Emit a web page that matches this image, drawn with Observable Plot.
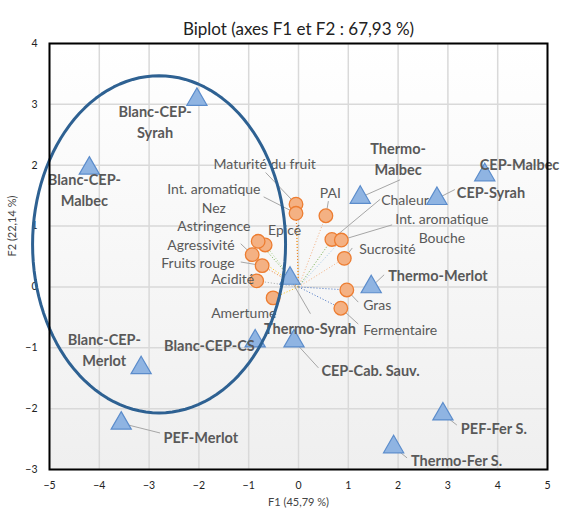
<!DOCTYPE html>
<html><head><meta charset="utf-8">
<script src="https://cdn.jsdelivr.net/npm/d3@7"></script>
<script src="https://cdn.jsdelivr.net/npm/@observablehq/plot@0.6"></script>
<style>body{margin:0;background:#fff;font-family:Lato,sans-serif;}</style>
</head><body><div id="chart"></div>
<script>
const title = "Biplot (axes F1 et F2 : 67,93 %)";
const xTitle = "F1 (45,79 %)";
const yTitle = "F2 (22,14 %)";
const xTicks = [-5,-4,-3,-2,-1,0,1,2,3,4,5];
const yTicks = [-3,-2,-1,0,1,2,3,4];

// Observations (blue triangles)
const obsNames = ["Blanc-CEP-\nSyrah","Blanc-CEP-\nMalbec","CEP-Malbec","CEP-Syrah","Thermo-\nMalbec","Thermo-Merlot","Thermo-Syrah","Blanc-CEP-CS","CEP-Cab. Sauv.","Blanc-CEP-\nMerlot","PEF-Merlot","PEF-Fer S.","Thermo-Fer S."];
const obsX = [-2.04,-4.2,3.74,2.78,1.24,1.46,-0.17,-0.87,-0.09,-3.16,-3.56,2.9,1.91];
const obsY = [3.08,1.95,1.84,1.45,1.47,0.0,0.14,-0.89,-0.89,-1.33,-2.24,-2.09,-2.63];
// label anchor points (data units) and leader ends
const obsLabelX = [-2.88,-4.3,3.64,3.18,2.0,1.8,0.23,-0.88,0.46,-3.9,-2.71,3.26,2.26];
const obsLabelY = [2.73,1.61,2.04,1.58,2.12,0.2,-0.66,-0.94,-1.35,-1.01,-2.45,-2.3,-2.83];
const obsAnchor = ["middle","middle","start","start","middle","start","middle","end","start","middle","start","start","start"];
const obsLeaderX = [null,null,null,3.14,2.04,1.72,0.24,null,0.4,null,-2.78,3.18,2.18];
const obsLeaderY = [null,null,null,1.6,1.76,0.2,-0.44,null,-1.33,null,-2.4,-2.27,-2.81];

// Variables (orange circles)
const varNames = ["Maturité du fruit","Int. aromatique\nNez","PAI","Epicé","Astringence","Agressivité","Fruits rouge","Acidité","Amertume","Chaleur","Int. aromatique\nBouche","Sucrosité","Gras","Fermentaire"];
const varX = [-0.05,-0.05,0.55,-0.67,-0.81,-0.93,-0.73,-0.84,-0.51,0.67,0.86,0.92,0.97,0.85];
const varY = [1.36,1.21,1.17,0.69,0.75,0.53,0.35,0.10,-0.18,0.78,0.77,0.47,-0.05,-0.35];
const varLabelX = [-0.68,-1.7,0.64,-0.28,-1.7,-1.96,-2.02,-1.32,-1.1,1.66,2.88,1.22,1.3,1.3];
const varLabelY = [2.04,1.47,1.56,0.95,1.02,0.71,0.41,0.15,-0.41,1.45,0.98,0.64,-0.28,-0.69];
const varAnchor = ["middle","middle","middle","middle","middle","middle","middle","middle","middle","start","middle","start","start","start"];
const varLeaderX = [-0.66,-0.7,0.6,null,null,-1.16,-1.16,null,null,1.64,1.88,1.08,1.2,1.2];
const varLeaderY = [1.88,1.48,1.41,null,null,0.71,0.41,null,null,1.44,1.02,0.64,-0.25,-0.61];
const spokeColors = ["#FFC000","#ED7D31","#F4B183","#A9D18E","#70AD47","#FFC000","#ED7D31","#A5A5A5","#FFC000","#70AD47","#9DC3E6","#F4B183","#4472C4","#4472C4"];

// Ellipse highlighting a group (center x, center y, radius x, radius y)
const ellipseParams = [-2.8, 0.70, 2.54, 2.77];

const obs = obsNames.map((n,i)=>({name:n,x:obsX[i],y:obsY[i],lx:obsLabelX[i],ly:obsLabelY[i],anchor:obsAnchor[i],ex:obsLeaderX[i],ey:obsLeaderY[i]}));
const vars = varNames.map((n,i)=>({name:n,x:varX[i],y:varY[i],lx:varLabelX[i],ly:varLabelY[i],anchor:varAnchor[i],ex:varLeaderX[i],ey:varLeaderY[i],c:spokeColors[i]}));
const [ecx,ecy,erx,ery] = ellipseParams;
const ellipse = d3.range(0, 361, 3).map(a => ({x: ecx + erx*Math.cos(a*Math.PI/180), y: ecy + ery*Math.sin(a*Math.PI/180)}));

const defs = () => {
  const s = d3.create("svg:defs");
  const g = s.append("linearGradient").attr("id","bg").attr("x1",0).attr("x2",0).attr("y1",0).attr("y2",1);
  g.append("stop").attr("offset","0%").attr("stop-color","#ffffff");
  g.append("stop").attr("offset","100%").attr("stop-color","#efefef");
  return s.node();
};

const txt = (data, anchor, opts) => Plot.text(data.filter(d=>d.anchor===anchor), {x:"lx", y:"ly", text:"name", textAnchor:anchor, ...opts});
const obsTextOpts = {fill:"#595959", fontWeight:"bold", fontSize:14.5, lineHeight:1.45};
const varTextOpts = {fill:"#595959", fontSize:14, lineHeight:1.35};

const chart = Plot.plot({
  width: 561, height: 512,
  marginTop: 43, marginBottom: 43, marginLeft: 49, marginRight: 14,
  style: {fontFamily: "Lato, sans-serif", background: "#fff"},
  x: {domain: [-5,5], ticks: xTicks, tickSize: 0, tickPadding: 12, label: null},
  y: {domain: [-3,4], ticks: yTicks, tickSize: 0, tickPadding: 12, label: null},
  color: {type: "identity"},
  marks: [
    defs,
    Plot.frame({fill: "url(#bg)"}),
    Plot.gridX(xTicks, {stroke: "#d9d9d9", strokeOpacity: 1, strokeWidth: 1.5}),
    Plot.gridY(yTicks, {stroke: "#d9d9d9", strokeOpacity: 1, strokeWidth: 1.5}),
    Plot.axisX(xTicks, {tickSize: 0, tickPadding: 12, fontSize: 10.5, fill: "#222", label: null, tickFormat: "d"}),
    Plot.axisY(yTicks, {tickSize: 0, tickPadding: 12, fontSize: 10.5, fill: "#222", label: null, tickFormat: "d"}),
    Plot.link(vars, {x1: () => 0, y1: () => 0, x2: "x", y2: "y", stroke: "c", strokeWidth: 1, strokeDasharray: "1,2"}),
    Plot.link(vars.filter(d=>d.ex!=null), {x1: "x", y1: "y", x2: "ex", y2: "ey", stroke: "#a6a6a6", strokeWidth: 1}),
    Plot.link(obs.filter(d=>d.ex!=null), {x1: "x", y1: "y", x2: "ex", y2: "ey", stroke: "#a6a6a6", strokeWidth: 1}),
    Plot.dot(vars, {x: "x", y: "y", r: 6.8, fill: "#F4B183", stroke: "#ED7D31", strokeWidth: 1.3}),
    Plot.dot(obs, {x: "x", y: "y", r: 7.5, symbol: "triangle", fill: "#8FB4E2", stroke: "#5B8CCB", strokeWidth: 1.2}),
    txt(vars, "middle", varTextOpts),
    txt(vars, "start", varTextOpts),
    txt(obs, "middle", obsTextOpts),
    txt(obs, "start", obsTextOpts),
    txt(obs, "end", obsTextOpts),
    Plot.line(ellipse, {x: "x", y: "y", stroke: "#2E6192", strokeWidth: 3}),
    Plot.frame({stroke: "#000", strokeWidth: 2}),
    Plot.text([title], {frameAnchor: "top", dy: -21, fontSize: 17, fill: "#222", text: d => d}),
    Plot.text([xTitle], {frameAnchor: "bottom", dy: 36, fontSize: 11, fill: "#444", text: d => d}),
    Plot.text([yTitle], {frameAnchor: "left", dx: -37, rotate: -90, fontSize: 11, fill: "#444", text: d => d})
  ]
});
document.getElementById("chart").appendChild(chart);
</script>
</body></html>
